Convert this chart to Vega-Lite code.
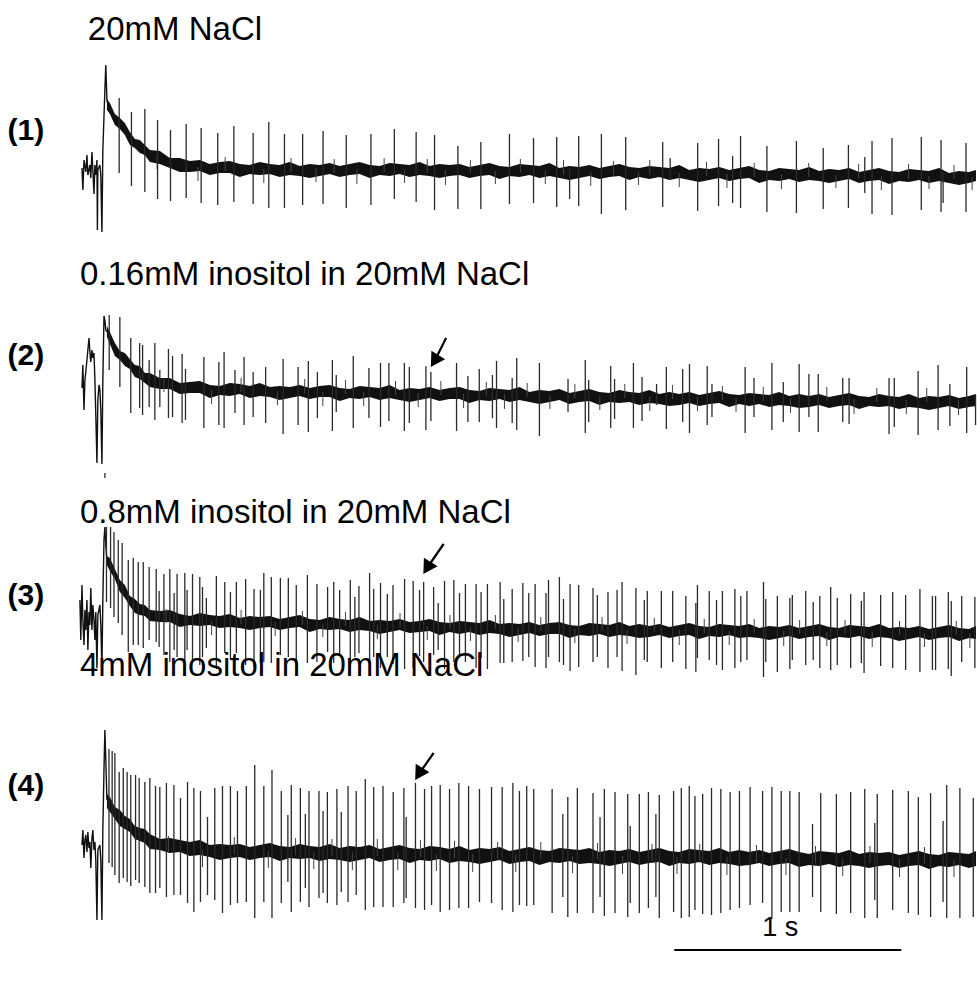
{
  "$schema": "https://vega.github.io/schema/vega-lite/v6.json",
  "width": 977,
  "height": 981,
  "autosize": {"type": "fit", "contains": "padding"},
  "padding": 0,
  "background": "white",
  "config": {"view": {"stroke": null}},
  "datasets": {
    "band": [
      {"s":1,"t":9,"a":882,"b":871},{"s":1,"t":22,"a":878,"b":867},{"s":1,"t":44,"a":867,"b":856},{"s":1,"t":66,"a":863,"b":852},{"s":1,"t":88,"a":858,"b":846},{"s":1,"t":110,"a":849,"b":836},{"s":1,"t":132,"a":842,"b":833},{"s":1,"t":154,"a":841,"b":828},{"s":1,"t":176,"a":836,"b":826},{"s":1,"t":198,"a":831,"b":819},{"s":1,"t":242,"a":830,"b":817},{"s":1,"t":286,"a":823,"b":813},{"s":1,"t":330,"a":823,"b":809},{"s":1,"t":374,"a":820,"b":809},{"s":1,"t":418,"a":821,"b":810},{"s":1,"t":462,"a":817,"b":806},{"s":1,"t":506,"a":819,"b":808},{"s":1,"t":550,"a":820,"b":808},{"s":1,"t":594,"a":817,"b":804},{"s":1,"t":638,"a":816,"b":807},{"s":1,"t":682,"a":819,"b":806},{"s":1,"t":726,"a":817,"b":807},{"s":1,"t":770,"a":816,"b":804},{"s":1,"t":814,"a":819,"b":806},{"s":1,"t":858,"a":815,"b":805},{"s":1,"t":902,"a":817,"b":803},{"s":1,"t":946,"a":816,"b":805},{"s":1,"t":990,"a":818,"b":807},{"s":1,"t":1034,"a":815,"b":804},{"s":1,"t":1078,"a":817,"b":806},{"s":1,"t":1122,"a":819,"b":807},{"s":1,"t":1166,"a":816,"b":803},{"s":1,"t":1210,"a":815,"b":806},{"s":1,"t":1254,"a":818,"b":805},{"s":1,"t":1298,"a":817,"b":807},{"s":1,"t":1342,"a":816,"b":804},{"s":1,"t":1386,"a":819,"b":806},{"s":1,"t":1430,"a":815,"b":805},{"s":1,"t":1474,"a":817,"b":803},{"s":1,"t":1518,"a":816,"b":805},{"s":1,"t":1562,"a":817,"b":806},{"s":1,"t":1606,"a":814,"b":803},{"s":1,"t":1650,"a":816,"b":805},{"s":1,"t":1694,"a":818,"b":806},{"s":1,"t":1738,"a":815,"b":802},{"s":1,"t":1782,"a":814,"b":805},{"s":1,"t":1826,"a":817,"b":804},{"s":1,"t":1870,"a":816,"b":806},{"s":1,"t":1914,"a":815,"b":803},{"s":1,"t":1958,"a":818,"b":805},{"s":1,"t":2002,"a":813,"b":803},{"s":1,"t":2046,"a":815,"b":801},{"s":1,"t":2090,"a":814,"b":803},{"s":1,"t":2134,"a":816,"b":805},{"s":1,"t":2178,"a":813,"b":802},{"s":1,"t":2222,"a":815,"b":804},{"s":1,"t":2266,"a":817,"b":805},{"s":1,"t":2310,"a":814,"b":801},{"s":1,"t":2354,"a":813,"b":804},{"s":1,"t":2398,"a":815,"b":802},{"s":1,"t":2442,"a":814,"b":804},{"s":1,"t":2486,"a":813,"b":801},{"s":1,"t":2530,"a":816,"b":803},{"s":1,"t":2574,"a":811,"b":801},{"s":1,"t":2618,"a":813,"b":799},{"s":1,"t":2662,"a":812,"b":801},{"s":1,"t":2706,"a":814,"b":803},{"s":1,"t":2750,"a":811,"b":800},{"s":1,"t":2794,"a":813,"b":802},{"s":1,"t":2838,"a":815,"b":803},{"s":1,"t":2882,"a":811,"b":798},{"s":1,"t":2926,"a":810,"b":801},{"s":1,"t":2970,"a":813,"b":800},{"s":1,"t":3014,"a":812,"b":802},{"s":1,"t":3058,"a":811,"b":799},{"s":1,"t":3102,"a":814,"b":801},{"s":1,"t":3146,"a":810,"b":800},{"s":1,"t":3190,"a":812,"b":798},{"s":1,"t":3234,"a":811,"b":800},{"s":1,"t":3278,"a":813,"b":802},{"s":1,"t":3322,"a":809,"b":798},{"s":1,"t":3366,"a":811,"b":800},{"s":1,"t":3410,"a":813,"b":801},{"s":1,"t":3454,"a":810,"b":797},{"s":1,"t":3498,"a":809,"b":800},{"s":1,"t":3542,"a":812,"b":799},{"s":1,"t":3586,"a":811,"b":801},{"s":1,"t":3630,"a":810,"b":798},{"s":1,"t":3674,"a":813,"b":800},{"s":1,"t":3718,"a":808,"b":798},{"s":1,"t":3762,"a":810,"b":796},{"s":1,"t":3806,"a":809,"b":798},{"s":1,"t":3837,"a":811,"b":800},

      {"s":2,"t":9,"a":655,"b":644},{"s":2,"t":22,"a":649,"b":637},{"s":2,"t":44,"a":638,"b":625},{"s":2,"t":66,"a":630,"b":621},{"s":2,"t":88,"a":628,"b":615},{"s":2,"t":110,"a":622,"b":612},{"s":2,"t":132,"a":616,"b":604},{"s":2,"t":154,"a":615,"b":602},{"s":2,"t":176,"a":608,"b":598},{"s":2,"t":198,"a":608,"b":594},{"s":2,"t":242,"a":603,"b":592},{"s":2,"t":286,"a":603,"b":592},{"s":2,"t":330,"a":598,"b":587},{"s":2,"t":374,"a":599,"b":588},{"s":2,"t":418,"a":600,"b":588},{"s":2,"t":462,"a":596,"b":583},{"s":2,"t":506,"a":595,"b":586},{"s":2,"t":550,"a":598,"b":585},{"s":2,"t":594,"a":597,"b":587},{"s":2,"t":638,"a":595,"b":583},{"s":2,"t":682,"a":598,"b":585},{"s":2,"t":726,"a":594,"b":584},{"s":2,"t":770,"a":595,"b":581},{"s":2,"t":814,"a":594,"b":583},{"s":2,"t":858,"a":596,"b":585},{"s":2,"t":902,"a":593,"b":582},{"s":2,"t":946,"a":595,"b":584},{"s":2,"t":990,"a":596,"b":584},{"s":2,"t":1034,"a":593,"b":580},{"s":2,"t":1078,"a":592,"b":583},{"s":2,"t":1122,"a":595,"b":582},{"s":2,"t":1166,"a":594,"b":584},{"s":2,"t":1210,"a":593,"b":581},{"s":2,"t":1254,"a":596,"b":583},{"s":2,"t":1298,"a":591,"b":581},{"s":2,"t":1342,"a":593,"b":579},{"s":2,"t":1386,"a":592,"b":581},{"s":2,"t":1430,"a":594,"b":583},{"s":2,"t":1474,"a":591,"b":580},{"s":2,"t":1518,"a":593,"b":582},{"s":2,"t":1562,"a":594,"b":582},{"s":2,"t":1606,"a":591,"b":578},{"s":2,"t":1650,"a":590,"b":581},{"s":2,"t":1694,"a":593,"b":580},{"s":2,"t":1738,"a":592,"b":582},{"s":2,"t":1782,"a":591,"b":579},{"s":2,"t":1826,"a":594,"b":581},{"s":2,"t":1870,"a":589,"b":579},{"s":2,"t":1914,"a":591,"b":577},{"s":2,"t":1958,"a":590,"b":579},{"s":2,"t":2002,"a":592,"b":581},{"s":2,"t":2046,"a":588,"b":577},{"s":2,"t":2090,"a":590,"b":579},{"s":2,"t":2134,"a":592,"b":580},{"s":2,"t":2178,"a":589,"b":576},{"s":2,"t":2222,"a":588,"b":579},{"s":2,"t":2266,"a":591,"b":578},{"s":2,"t":2310,"a":589,"b":579},{"s":2,"t":2354,"a":588,"b":576},{"s":2,"t":2398,"a":591,"b":578},{"s":2,"t":2442,"a":587,"b":577},{"s":2,"t":2486,"a":589,"b":575},{"s":2,"t":2530,"a":587,"b":576},{"s":2,"t":2574,"a":589,"b":578},{"s":2,"t":2618,"a":586,"b":575},{"s":2,"t":2662,"a":588,"b":577},{"s":2,"t":2706,"a":590,"b":578},{"s":2,"t":2750,"a":587,"b":574},{"s":2,"t":2794,"a":586,"b":577},{"s":2,"t":2838,"a":588,"b":575},{"s":2,"t":2882,"a":587,"b":577},{"s":2,"t":2926,"a":586,"b":574},{"s":2,"t":2970,"a":589,"b":576},{"s":2,"t":3014,"a":585,"b":575},{"s":2,"t":3058,"a":587,"b":573},{"s":2,"t":3102,"a":585,"b":574},{"s":2,"t":3146,"a":587,"b":576},{"s":2,"t":3190,"a":584,"b":573},{"s":2,"t":3234,"a":586,"b":575},{"s":2,"t":3278,"a":588,"b":576},{"s":2,"t":3322,"a":585,"b":572},{"s":2,"t":3366,"a":584,"b":575},{"s":2,"t":3410,"a":587,"b":574},{"s":2,"t":3454,"a":585,"b":575},{"s":2,"t":3498,"a":584,"b":572},{"s":2,"t":3542,"a":587,"b":574},{"s":2,"t":3586,"a":583,"b":573},{"s":2,"t":3630,"a":585,"b":571},{"s":2,"t":3674,"a":584,"b":573},{"s":2,"t":3718,"a":586,"b":575},{"s":2,"t":3762,"a":583,"b":572},{"s":2,"t":3806,"a":585,"b":574},{"s":2,"t":3837,"a":587,"b":575},

      {"s":3,"t":9,"a":425,"b":416},{"s":3,"t":22,"a":423,"b":410},{"s":3,"t":44,"a":412,"b":402},{"s":3,"t":66,"a":401,"b":389},{"s":3,"t":88,"a":396,"b":383},{"s":3,"t":110,"a":385,"b":375},{"s":3,"t":132,"a":382,"b":368},{"s":3,"t":154,"a":377,"b":366},{"s":3,"t":176,"a":376,"b":365},{"s":3,"t":198,"a":371,"b":360},{"s":3,"t":242,"a":370,"b":359},{"s":3,"t":286,"a":371,"b":359},{"s":3,"t":330,"a":367,"b":354},{"s":3,"t":374,"a":365,"b":356},{"s":3,"t":418,"a":368,"b":355},{"s":3,"t":462,"a":366,"b":356},{"s":3,"t":506,"a":365,"b":353},{"s":3,"t":550,"a":367,"b":354},{"s":3,"t":594,"a":363,"b":353},{"s":3,"t":638,"a":365,"b":351},{"s":3,"t":682,"a":364,"b":353},{"s":3,"t":726,"a":365,"b":354},{"s":3,"t":770,"a":362,"b":351},{"s":3,"t":814,"a":364,"b":353},{"s":3,"t":858,"a":366,"b":354},{"s":3,"t":902,"a":362,"b":349},{"s":3,"t":946,"a":361,"b":352},{"s":3,"t":990,"a":364,"b":351},{"s":3,"t":1034,"a":362,"b":352},{"s":3,"t":1078,"a":361,"b":349},{"s":3,"t":1122,"a":364,"b":351},{"s":3,"t":1166,"a":360,"b":350},{"s":3,"t":1210,"a":361,"b":347},{"s":3,"t":1254,"a":360,"b":349},{"s":3,"t":1298,"a":362,"b":351},{"s":3,"t":1342,"a":359,"b":348},{"s":3,"t":1386,"a":360,"b":349},{"s":3,"t":1430,"a":362,"b":350},{"s":3,"t":1474,"a":359,"b":346},{"s":3,"t":1518,"a":358,"b":349},{"s":3,"t":1562,"a":360,"b":347},{"s":3,"t":1606,"a":359,"b":349},{"s":3,"t":1650,"a":358,"b":346},{"s":3,"t":1694,"a":361,"b":348},{"s":3,"t":1738,"a":357,"b":347},{"s":3,"t":1782,"a":358,"b":344},{"s":3,"t":1826,"a":357,"b":346},{"s":3,"t":1870,"a":359,"b":348},{"s":3,"t":1914,"a":356,"b":345},{"s":3,"t":1958,"a":358,"b":347},{"s":3,"t":2002,"a":359,"b":347},{"s":3,"t":2046,"a":356,"b":343},{"s":3,"t":2090,"a":355,"b":346},{"s":3,"t":2134,"a":358,"b":345},{"s":3,"t":2178,"a":357,"b":347},{"s":3,"t":2222,"a":356,"b":344},{"s":3,"t":2266,"a":359,"b":346},{"s":3,"t":2310,"a":355,"b":345},{"s":3,"t":2354,"a":357,"b":343},{"s":3,"t":2398,"a":355,"b":344},{"s":3,"t":2442,"a":357,"b":346},{"s":3,"t":2486,"a":354,"b":343},{"s":3,"t":2530,"a":356,"b":345},{"s":3,"t":2574,"a":358,"b":346},{"s":3,"t":2618,"a":355,"b":342},{"s":3,"t":2662,"a":354,"b":345},{"s":3,"t":2706,"a":357,"b":344},{"s":3,"t":2750,"a":356,"b":346},{"s":3,"t":2794,"a":355,"b":343},{"s":3,"t":2838,"a":357,"b":344},{"s":3,"t":2882,"a":353,"b":343},{"s":3,"t":2926,"a":355,"b":341},{"s":3,"t":2970,"a":354,"b":343},{"s":3,"t":3014,"a":356,"b":345},{"s":3,"t":3058,"a":353,"b":342},{"s":3,"t":3102,"a":355,"b":344},{"s":3,"t":3146,"a":357,"b":345},{"s":3,"t":3190,"a":354,"b":341},{"s":3,"t":3234,"a":353,"b":344},{"s":3,"t":3278,"a":356,"b":343},{"s":3,"t":3322,"a":355,"b":345},{"s":3,"t":3366,"a":354,"b":342},{"s":3,"t":3410,"a":357,"b":344},{"s":3,"t":3454,"a":353,"b":343},{"s":3,"t":3498,"a":354,"b":340},{"s":3,"t":3542,"a":353,"b":342},{"s":3,"t":3586,"a":355,"b":344},{"s":3,"t":3630,"a":352,"b":341},{"s":3,"t":3674,"a":354,"b":343},{"s":3,"t":3718,"a":356,"b":344},{"s":3,"t":3762,"a":353,"b":340},{"s":3,"t":3806,"a":352,"b":343},{"s":3,"t":3837,"a":355,"b":342},

      {"s":4,"t":9,"a":187,"b":173},{"s":4,"t":22,"a":184,"b":169},{"s":4,"t":44,"a":174,"b":162},{"s":4,"t":66,"a":171,"b":155},{"s":4,"t":88,"a":165,"b":152},{"s":4,"t":110,"a":162,"b":149},{"s":4,"t":132,"a":155,"b":142},{"s":4,"t":154,"a":153,"b":140},{"s":4,"t":176,"a":152,"b":138},{"s":4,"t":198,"a":147,"b":132},{"s":4,"t":242,"a":142,"b":131},{"s":4,"t":286,"a":143,"b":128},{"s":4,"t":330,"a":141,"b":129},{"s":4,"t":374,"a":139,"b":125},{"s":4,"t":418,"a":141,"b":126},{"s":4,"t":462,"a":136,"b":124},{"s":4,"t":506,"a":137,"b":121},{"s":4,"t":550,"a":136,"b":123},{"s":4,"t":594,"a":137,"b":124},{"s":4,"t":638,"a":134,"b":121},{"s":4,"t":682,"a":136,"b":123},{"s":4,"t":726,"a":138,"b":124},{"s":4,"t":770,"a":135,"b":120},{"s":4,"t":814,"a":134,"b":123},{"s":4,"t":858,"a":137,"b":122},{"s":4,"t":902,"a":135,"b":123},{"s":4,"t":946,"a":134,"b":120},{"s":4,"t":990,"a":137,"b":122},{"s":4,"t":1034,"a":133,"b":121},{"s":4,"t":1078,"a":135,"b":119},{"s":4,"t":1122,"a":134,"b":121},{"s":4,"t":1166,"a":136,"b":123},{"s":4,"t":1210,"a":132,"b":119},{"s":4,"t":1254,"a":134,"b":121},{"s":4,"t":1298,"a":136,"b":122},{"s":4,"t":1342,"a":133,"b":118},{"s":4,"t":1386,"a":132,"b":121},{"s":4,"t":1430,"a":135,"b":120},{"s":4,"t":1474,"a":134,"b":122},{"s":4,"t":1518,"a":132,"b":118},{"s":4,"t":1562,"a":135,"b":120},{"s":4,"t":1606,"a":131,"b":119},{"s":4,"t":1650,"a":133,"b":117},{"s":4,"t":1694,"a":132,"b":119},{"s":4,"t":1738,"a":134,"b":121},{"s":4,"t":1782,"a":130,"b":117},{"s":4,"t":1826,"a":132,"b":119},{"s":4,"t":1870,"a":134,"b":120},{"s":4,"t":1914,"a":131,"b":116},{"s":4,"t":1958,"a":130,"b":119},{"s":4,"t":2002,"a":133,"b":118},{"s":4,"t":2046,"a":132,"b":120},{"s":4,"t":2090,"a":131,"b":117},{"s":4,"t":2134,"a":133,"b":118},{"s":4,"t":2178,"a":129,"b":117},{"s":4,"t":2222,"a":131,"b":115},{"s":4,"t":2266,"a":130,"b":117},{"s":4,"t":2310,"a":132,"b":119},{"s":4,"t":2354,"a":129,"b":116},{"s":4,"t":2398,"a":131,"b":118},{"s":4,"t":2442,"a":133,"b":119},{"s":4,"t":2486,"a":130,"b":115},{"s":4,"t":2530,"a":129,"b":118},{"s":4,"t":2574,"a":132,"b":117},{"s":4,"t":2618,"a":131,"b":119},{"s":4,"t":2662,"a":130,"b":116},{"s":4,"t":2706,"a":133,"b":118},{"s":4,"t":2750,"a":129,"b":117},{"s":4,"t":2794,"a":131,"b":115},{"s":4,"t":2838,"a":129,"b":116},{"s":4,"t":2882,"a":131,"b":118},{"s":4,"t":2926,"a":128,"b":115},{"s":4,"t":2970,"a":130,"b":117},{"s":4,"t":3014,"a":132,"b":118},{"s":4,"t":3058,"a":129,"b":114},{"s":4,"t":3102,"a":127,"b":116},{"s":4,"t":3146,"a":130,"b":115},{"s":4,"t":3190,"a":129,"b":117},{"s":4,"t":3234,"a":128,"b":114},{"s":4,"t":3278,"a":131,"b":116},{"s":4,"t":3322,"a":127,"b":115},{"s":4,"t":3366,"a":129,"b":113},{"s":4,"t":3410,"a":128,"b":115},{"s":4,"t":3454,"a":129,"b":116},{"s":4,"t":3498,"a":126,"b":113},{"s":4,"t":3542,"a":128,"b":115},{"s":4,"t":3586,"a":130,"b":116},{"s":4,"t":3630,"a":127,"b":112},{"s":4,"t":3674,"a":126,"b":115},{"s":4,"t":3718,"a":129,"b":114},{"s":4,"t":3762,"a":128,"b":116},{"s":4,"t":3806,"a":127,"b":113},{"s":4,"t":3837,"a":130,"b":115}
    ],
    "onset": [
      {"s":1,"i":0,"t":-101,"v":813},{"s":1,"i":1,"t":-97,"v":791},{"s":1,"i":2,"t":-92,"v":821},{"s":1,"i":3,"t":-84,"v":809},{"s":1,"i":4,"t":-79,"v":826},{"s":1,"i":5,"t":-75,"v":806},{"s":1,"i":6,"t":-66,"v":816},{"s":1,"i":7,"t":-62,"v":803},{"s":1,"i":8,"t":-57,"v":829},{"s":1,"i":9,"t":-53,"v":811},{"s":1,"i":10,"t":-48,"v":787},{"s":1,"i":11,"t":-44,"v":816},{"s":1,"i":12,"t":-40,"v":806},{"s":1,"i":13,"t":-35,"v":821},{"s":1,"i":14,"t":-33,"v":751},{"s":1,"i":15,"t":-31,"v":811},{"s":1,"i":16,"t":-22,"v":816},{"s":1,"i":17,"t":-18,"v":806},{"s":1,"i":18,"t":-13,"v":749},{"s":1,"i":19,"t":-9,"v":831},{"s":1,"i":20,"t":0,"v":891},{"s":1,"i":21,"t":4,"v":916},{"s":1,"i":22,"t":9,"v":881},{"s":1,"i":23,"t":13,"v":877},

      {"s":2,"i":0,"t":-101,"v":593},{"s":2,"i":1,"t":-97,"v":616},{"s":2,"i":2,"t":-92,"v":571},{"s":2,"i":3,"t":-88,"v":601},{"s":2,"i":4,"t":-84,"v":609},{"s":2,"i":5,"t":-79,"v":621},{"s":2,"i":6,"t":-75,"v":631},{"s":2,"i":7,"t":-70,"v":643},{"s":2,"i":8,"t":-66,"v":629},{"s":2,"i":9,"t":-62,"v":619},{"s":2,"i":10,"t":-57,"v":631},{"s":2,"i":11,"t":-53,"v":623},{"s":2,"i":12,"t":-48,"v":628},{"s":2,"i":13,"t":-44,"v":601},{"s":2,"i":14,"t":-40,"v":566},{"s":2,"i":15,"t":-35,"v":518},{"s":2,"i":16,"t":-31,"v":581},{"s":2,"i":17,"t":-26,"v":596},{"s":2,"i":18,"t":-22,"v":591},{"s":2,"i":19,"t":-18,"v":571},{"s":2,"i":20,"t":-13,"v":517},{"s":2,"i":21,"t":-9,"v":601},{"s":2,"i":22,"t":-4,"v":665},{"s":2,"i":23,"t":0,"v":661},{"s":2,"i":24,"t":4,"v":651},{"s":2,"i":25,"t":9,"v":649},

      {"s":3,"i":0,"t":-110,"v":381},{"s":3,"i":1,"t":-106,"v":341},{"s":3,"i":2,"t":-101,"v":396},{"s":3,"i":3,"t":-97,"v":361},{"s":3,"i":4,"t":-92,"v":336},{"s":3,"i":5,"t":-88,"v":371},{"s":3,"i":6,"t":-84,"v":351},{"s":3,"i":7,"t":-79,"v":381},{"s":3,"i":8,"t":-75,"v":331},{"s":3,"i":9,"t":-70,"v":369},{"s":3,"i":10,"t":-66,"v":356},{"s":3,"i":11,"t":-62,"v":393},{"s":3,"i":12,"t":-57,"v":351},{"s":3,"i":13,"t":-53,"v":376},{"s":3,"i":14,"t":-48,"v":361},{"s":3,"i":15,"t":-44,"v":341},{"s":3,"i":16,"t":-40,"v":369},{"s":3,"i":17,"t":-35,"v":313},{"s":3,"i":18,"t":-31,"v":366},{"s":3,"i":19,"t":-22,"v":376},{"s":3,"i":20,"t":-18,"v":356},{"s":3,"i":21,"t":-13,"v":313},{"s":3,"i":22,"t":-9,"v":381},{"s":3,"i":23,"t":-4,"v":441},{"s":3,"i":24,"t":0,"v":454},{"s":3,"i":25,"t":4,"v":436},{"s":3,"i":26,"t":9,"v":421},

      {"s":4,"i":0,"t":-101,"v":136},{"s":4,"i":1,"t":-97,"v":151},{"s":4,"i":2,"t":-92,"v":123},{"s":4,"i":3,"t":-88,"v":141},{"s":4,"i":4,"t":-84,"v":146},{"s":4,"i":5,"t":-79,"v":129},{"s":4,"i":6,"t":-75,"v":149},{"s":4,"i":7,"t":-70,"v":133},{"s":4,"i":8,"t":-66,"v":139},{"s":4,"i":9,"t":-62,"v":113},{"s":4,"i":10,"t":-57,"v":143},{"s":4,"i":11,"t":-53,"v":151},{"s":4,"i":12,"t":-48,"v":131},{"s":4,"i":13,"t":-44,"v":139},{"s":4,"i":14,"t":-40,"v":121},{"s":4,"i":15,"t":-35,"v":61},{"s":4,"i":16,"t":-31,"v":131},{"s":4,"i":17,"t":-22,"v":136},{"s":4,"i":18,"t":-18,"v":121},{"s":4,"i":19,"t":-13,"v":61},{"s":4,"i":20,"t":-9,"v":151},{"s":4,"i":21,"t":-4,"v":211},{"s":4,"i":22,"t":0,"v":251},{"s":4,"i":23,"t":4,"v":221},{"s":4,"i":24,"t":9,"v":181}
    ],
    "spikes": [
      {"s":1,"t":63,"hi":883,"lo":808},{"s":1,"t":117,"hi":869,"lo":795},{"s":1,"t":176,"hi":872,"lo":789},{"s":1,"t":232,"hi":861,"lo":782},{"s":1,"t":289,"hi":851,"lo":780},{"s":1,"t":358,"hi":857,"lo":783},{"s":1,"t":424,"hi":853,"lo":778},{"s":1,"t":497,"hi":848,"lo":776},{"s":1,"t":568,"hi":855,"lo":779},{"s":1,"t":653,"hi":848,"lo":777},{"s":1,"t":722,"hi":859,"lo":773},{"s":1,"t":791,"hi":847,"lo":773},{"s":1,"t":871,"hi":847,"lo":776},{"s":1,"t":961,"hi":850,"lo":777},{"s":1,"t":1063,"hi":846,"lo":773},{"s":1,"t":1172,"hi":847,"lo":776},{"s":1,"t":1275,"hi":852,"lo":782},{"s":1,"t":1371,"hi":849,"lo":779},{"s":1,"t":1452,"hi":846,"lo":771},{"s":1,"t":1555,"hi":835,"lo":772},{"s":1,"t":1656,"hi":839,"lo":772},{"s":1,"t":1782,"hi":847,"lo":777},{"s":1,"t":1888,"hi":843,"lo":778},{"s":1,"t":1990,"hi":844,"lo":774},{"s":1,"t":2047,"hi":813,"lo":782},{"s":1,"t":2087,"hi":845,"lo":775},{"s":1,"t":2187,"hi":847,"lo":767},{"s":1,"t":2294,"hi":844,"lo":771},{"s":1,"t":2457,"hi":839,"lo":774},{"s":1,"t":2490,"hi":823,"lo":801},{"s":1,"t":2611,"hi":838,"lo":770},{"s":1,"t":2703,"hi":842,"lo":775},{"s":1,"t":2765,"hi":825,"lo":778},{"s":1,"t":2800,"hi":845,"lo":773},{"s":1,"t":2916,"hi":835,"lo":769},{"s":1,"t":3046,"hi":840,"lo":768},{"s":1,"t":3164,"hi":833,"lo":772},{"s":1,"t":3275,"hi":836,"lo":773},{"s":1,"t":3347,"hi":824,"lo":788},{"s":1,"t":3379,"hi":840,"lo":767},{"s":1,"t":3467,"hi":843,"lo":766},{"s":1,"t":3596,"hi":844,"lo":771},{"s":1,"t":3683,"hi":841,"lo":769},{"s":1,"t":3692,"hi":809,"lo":778},{"s":1,"t":3793,"hi":838,"lo":769},

      {"s":2,"t":0,"hi":508,"lo":503},{"s":2,"t":19,"hi":666,"lo":611},{"s":2,"t":66,"hi":664,"lo":594},{"s":2,"t":114,"hi":643,"lo":568},{"s":2,"t":153,"hi":638,"lo":573},{"s":2,"t":166,"hi":636,"lo":566},{"s":2,"t":195,"hi":621,"lo":574},{"s":2,"t":220,"hi":638,"lo":561},{"s":2,"t":242,"hi":611,"lo":574},{"s":2,"t":280,"hi":632,"lo":563},{"s":2,"t":298,"hi":625,"lo":564},{"s":2,"t":340,"hi":627,"lo":558},{"s":2,"t":355,"hi":612,"lo":561},{"s":2,"t":436,"hi":624,"lo":553},{"s":2,"t":502,"hi":619,"lo":556},{"s":2,"t":525,"hi":629,"lo":553},{"s":2,"t":573,"hi":611,"lo":568},{"s":2,"t":613,"hi":624,"lo":556},{"s":2,"t":653,"hi":609,"lo":564},{"s":2,"t":708,"hi":614,"lo":558},{"s":2,"t":785,"hi":622,"lo":547},{"s":2,"t":851,"hi":614,"lo":556},{"s":2,"t":896,"hi":620,"lo":549},{"s":2,"t":936,"hi":609,"lo":563},{"s":2,"t":1002,"hi":621,"lo":550},{"s":2,"t":1019,"hi":606,"lo":569},{"s":2,"t":1094,"hi":625,"lo":553},{"s":2,"t":1163,"hi":613,"lo":563},{"s":2,"t":1214,"hi":618,"lo":554},{"s":2,"t":1251,"hi":618,"lo":560},{"s":2,"t":1319,"hi":618,"lo":550},{"s":2,"t":1341,"hi":614,"lo":558},{"s":2,"t":1414,"hi":615,"lo":551},{"s":2,"t":1436,"hi":609,"lo":560},{"s":2,"t":1549,"hi":618,"lo":550},{"s":2,"t":1599,"hi":605,"lo":559},{"s":2,"t":1649,"hi":612,"lo":559},{"s":2,"t":1707,"hi":606,"lo":563},{"s":2,"t":1725,"hi":620,"lo":553},{"s":2,"t":1794,"hi":603,"lo":558},{"s":2,"t":1814,"hi":623,"lo":551},{"s":2,"t":1914,"hi":618,"lo":545},{"s":2,"t":2040,"hi":602,"lo":569},{"s":2,"t":2116,"hi":621,"lo":548},{"s":2,"t":2131,"hi":601,"lo":559},{"s":2,"t":2228,"hi":615,"lo":553},{"s":2,"t":2245,"hi":602,"lo":562},{"s":2,"t":2328,"hi":618,"lo":553},{"s":2,"t":2366,"hi":604,"lo":560},{"s":2,"t":2430,"hi":597,"lo":576},{"s":2,"t":2473,"hi":614,"lo":552},{"s":2,"t":2545,"hi":612,"lo":559},{"s":2,"t":2575,"hi":617,"lo":548},{"s":2,"t":2653,"hi":615,"lo":556},{"s":2,"t":2674,"hi":597,"lo":564},{"s":2,"t":2820,"hi":614,"lo":548},{"s":2,"t":2859,"hi":603,"lo":564},{"s":2,"t":2938,"hi":618,"lo":551},{"s":2,"t":2988,"hi":599,"lo":559},{"s":2,"t":3058,"hi":617,"lo":549},{"s":2,"t":3101,"hi":607,"lo":564},{"s":2,"t":3142,"hi":607,"lo":549},{"s":2,"t":3250,"hi":603,"lo":559},{"s":2,"t":3278,"hi":603,"lo":557},{"s":2,"t":3454,"hi":603,"lo":547},{"s":2,"t":3477,"hi":603,"lo":554},{"s":2,"t":3582,"hi":610,"lo":546},{"s":2,"t":3670,"hi":616,"lo":551},{"s":2,"t":3722,"hi":597,"lo":555},{"s":2,"t":3796,"hi":614,"lo":548},{"s":2,"t":3835,"hi":586,"lo":556},

      {"s":3,"t":7,"hi":454,"lo":379},{"s":3,"t":25,"hi":454,"lo":373},{"s":3,"t":40,"hi":449,"lo":364},{"s":3,"t":59,"hi":441,"lo":358},{"s":3,"t":76,"hi":438,"lo":346},{"s":3,"t":103,"hi":421,"lo":329},{"s":3,"t":125,"hi":423,"lo":336},{"s":3,"t":147,"hi":419,"lo":336},{"s":3,"t":169,"hi":419,"lo":333},{"s":3,"t":195,"hi":414,"lo":341},{"s":3,"t":226,"hi":412,"lo":339},{"s":3,"t":239,"hi":390,"lo":334},{"s":3,"t":260,"hi":407,"lo":326},{"s":3,"t":286,"hi":412,"lo":319},{"s":3,"t":305,"hi":388,"lo":331},{"s":3,"t":318,"hi":407,"lo":324},{"s":3,"t":352,"hi":408,"lo":319},{"s":3,"t":362,"hi":391,"lo":331},{"s":3,"t":386,"hi":407,"lo":321},{"s":3,"t":418,"hi":404,"lo":316},{"s":3,"t":430,"hi":394,"lo":324},{"s":3,"t":447,"hi":383,"lo":333},{"s":3,"t":491,"hi":405,"lo":312},{"s":3,"t":528,"hi":399,"lo":328},{"s":3,"t":553,"hi":389,"lo":321},{"s":3,"t":579,"hi":399,"lo":328},{"s":3,"t":620,"hi":402,"lo":316},{"s":3,"t":657,"hi":392,"lo":314},{"s":3,"t":685,"hi":391,"lo":318},{"s":3,"t":700,"hi":408,"lo":319},{"s":3,"t":733,"hi":404,"lo":318},{"s":3,"t":773,"hi":403,"lo":326},{"s":3,"t":808,"hi":403,"lo":324},{"s":3,"t":843,"hi":396,"lo":321},{"s":3,"t":892,"hi":406,"lo":318},{"s":3,"t":934,"hi":397,"lo":319},{"s":3,"t":981,"hi":394,"lo":329},{"s":3,"t":1008,"hi":399,"lo":318},{"s":3,"t":1034,"hi":391,"lo":326},{"s":3,"t":1081,"hi":401,"lo":314},{"s":3,"t":1101,"hi":384,"lo":324},{"s":3,"t":1119,"hi":395,"lo":328},{"s":3,"t":1166,"hi":408,"lo":319},{"s":3,"t":1184,"hi":392,"lo":324},{"s":3,"t":1214,"hi":398,"lo":313},{"s":3,"t":1244,"hi":387,"lo":324},{"s":3,"t":1269,"hi":396,"lo":317},{"s":3,"t":1320,"hi":402,"lo":312},{"s":3,"t":1358,"hi":400,"lo":313},{"s":3,"t":1386,"hi":391,"lo":325},{"s":3,"t":1404,"hi":399,"lo":319},{"s":3,"t":1448,"hi":394,"lo":326},{"s":3,"t":1468,"hi":378,"lo":331},{"s":3,"t":1496,"hi":400,"lo":312},{"s":3,"t":1537,"hi":401,"lo":319},{"s":3,"t":1562,"hi":388,"lo":324},{"s":3,"t":1588,"hi":397,"lo":319},{"s":3,"t":1635,"hi":397,"lo":313},{"s":3,"t":1657,"hi":389,"lo":323},{"s":3,"t":1685,"hi":397,"lo":312},{"s":3,"t":1741,"hi":399,"lo":318},{"s":3,"t":1757,"hi":382,"lo":318},{"s":3,"t":1794,"hi":392,"lo":319},{"s":3,"t":1841,"hi":398,"lo":320},{"s":3,"t":1867,"hi":388,"lo":324},{"s":3,"t":1895,"hi":397,"lo":314},{"s":3,"t":1943,"hi":388,"lo":313},{"s":3,"t":1954,"hi":401,"lo":324},{"s":3,"t":2002,"hi":404,"lo":319},{"s":3,"t":2020,"hi":382,"lo":316},{"s":3,"t":2049,"hi":397,"lo":310},{"s":3,"t":2087,"hi":396,"lo":314},{"s":3,"t":2150,"hi":393,"lo":319},{"s":3,"t":2169,"hi":386,"lo":324},{"s":3,"t":2216,"hi":389,"lo":313},{"s":3,"t":2256,"hi":391,"lo":324},{"s":3,"t":2278,"hi":399,"lo":310},{"s":3,"t":2339,"hi":393,"lo":306},{"s":3,"t":2376,"hi":381,"lo":321},{"s":3,"t":2389,"hi":390,"lo":319},{"s":3,"t":2451,"hi":390,"lo":313},{"s":3,"t":2501,"hi":390,"lo":319},{"s":3,"t":2559,"hi":385,"lo":312},{"s":3,"t":2603,"hi":378,"lo":309},{"s":3,"t":2610,"hi":396,"lo":323},{"s":3,"t":2662,"hi":390,"lo":321},{"s":3,"t":2694,"hi":381,"lo":316},{"s":3,"t":2720,"hi":390,"lo":311},{"s":3,"t":2775,"hi":392,"lo":313},{"s":3,"t":2801,"hi":385,"lo":319},{"s":3,"t":2828,"hi":390,"lo":321},{"s":3,"t":2901,"hi":399,"lo":304},{"s":3,"t":2911,"hi":382,"lo":319},{"s":3,"t":2962,"hi":385,"lo":309},{"s":3,"t":3017,"hi":383,"lo":312},{"s":3,"t":3028,"hi":386,"lo":321},{"s":3,"t":3087,"hi":390,"lo":316},{"s":3,"t":3120,"hi":379,"lo":321},{"s":3,"t":3149,"hi":385,"lo":313},{"s":3,"t":3197,"hi":394,"lo":311},{"s":3,"t":3226,"hi":383,"lo":316},{"s":3,"t":3285,"hi":387,"lo":313},{"s":3,"t":3332,"hi":380,"lo":318},{"s":3,"t":3344,"hi":389,"lo":308},{"s":3,"t":3417,"hi":386,"lo":315},{"s":3,"t":3470,"hi":389,"lo":313},{"s":3,"t":3527,"hi":386,"lo":311},{"s":3,"t":3590,"hi":392,"lo":309},{"s":3,"t":3645,"hi":385,"lo":311},{"s":3,"t":3659,"hi":385,"lo":311},{"s":3,"t":3715,"hi":389,"lo":312},{"s":3,"t":3728,"hi":380,"lo":305},{"s":3,"t":3774,"hi":385,"lo":319},{"s":3,"t":3832,"hi":384,"lo":313},

      {"s":4,"t":18,"hi":232,"lo":118},{"s":4,"t":32,"hi":230,"lo":114},{"s":4,"t":44,"hi":228,"lo":106},{"s":4,"t":63,"hi":209,"lo":98},{"s":4,"t":81,"hi":213,"lo":103},{"s":4,"t":98,"hi":209,"lo":99},{"s":4,"t":114,"hi":206,"lo":95},{"s":4,"t":135,"hi":206,"lo":101},{"s":4,"t":151,"hi":203,"lo":98},{"s":4,"t":176,"hi":199,"lo":94},{"s":4,"t":198,"hi":203,"lo":88},{"s":4,"t":223,"hi":195,"lo":88},{"s":4,"t":242,"hi":194,"lo":93},{"s":4,"t":271,"hi":198,"lo":84},{"s":4,"t":304,"hi":196,"lo":86},{"s":4,"t":333,"hi":183,"lo":86},{"s":4,"t":364,"hi":199,"lo":78},{"s":4,"t":392,"hi":193,"lo":69},{"s":4,"t":421,"hi":190,"lo":79},{"s":4,"t":452,"hi":164,"lo":86},{"s":4,"t":484,"hi":193,"lo":81},{"s":4,"t":518,"hi":195,"lo":68},{"s":4,"t":553,"hi":195,"lo":76},{"s":4,"t":584,"hi":190,"lo":78},{"s":4,"t":623,"hi":195,"lo":79},{"s":4,"t":660,"hi":216,"lo":63},{"s":4,"t":700,"hi":195,"lo":79},{"s":4,"t":736,"hi":211,"lo":63},{"s":4,"t":777,"hi":190,"lo":78},{"s":4,"t":806,"hi":166,"lo":99},{"s":4,"t":821,"hi":196,"lo":69},{"s":4,"t":861,"hi":193,"lo":79},{"s":4,"t":883,"hi":167,"lo":93},{"s":4,"t":899,"hi":190,"lo":74},{"s":4,"t":943,"hi":190,"lo":83},{"s":4,"t":961,"hi":170,"lo":88},{"s":4,"t":980,"hi":189,"lo":78},{"s":4,"t":1022,"hi":192,"lo":76},{"s":4,"t":1041,"hi":169,"lo":89},{"s":4,"t":1071,"hi":195,"lo":79},{"s":4,"t":1107,"hi":190,"lo":86},{"s":4,"t":1147,"hi":202,"lo":71},{"s":4,"t":1184,"hi":194,"lo":74},{"s":4,"t":1225,"hi":195,"lo":74},{"s":4,"t":1270,"hi":189,"lo":74},{"s":4,"t":1317,"hi":193,"lo":78},{"s":4,"t":1327,"hi":164,"lo":83},{"s":4,"t":1368,"hi":198,"lo":73},{"s":4,"t":1408,"hi":192,"lo":71},{"s":4,"t":1439,"hi":195,"lo":76},{"s":4,"t":1477,"hi":196,"lo":69},{"s":4,"t":1518,"hi":192,"lo":71},{"s":4,"t":1559,"hi":198,"lo":73},{"s":4,"t":1602,"hi":195,"lo":73},{"s":4,"t":1650,"hi":192,"lo":79},{"s":4,"t":1703,"hi":194,"lo":78},{"s":4,"t":1750,"hi":194,"lo":71},{"s":4,"t":1797,"hi":198,"lo":69},{"s":4,"t":1826,"hi":190,"lo":76},{"s":4,"t":1858,"hi":195,"lo":75},{"s":4,"t":1889,"hi":192,"lo":76},{"s":4,"t":1970,"hi":192,"lo":68},{"s":4,"t":2017,"hi":167,"lo":84},{"s":4,"t":2039,"hi":184,"lo":64},{"s":4,"t":2081,"hi":193,"lo":68},{"s":4,"t":2150,"hi":188,"lo":68},{"s":4,"t":2181,"hi":164,"lo":84},{"s":4,"t":2200,"hi":192,"lo":65},{"s":4,"t":2247,"hi":189,"lo":68},{"s":4,"t":2303,"hi":187,"lo":64},{"s":4,"t":2314,"hi":155,"lo":78},{"s":4,"t":2354,"hi":187,"lo":68},{"s":4,"t":2394,"hi":189,"lo":73},{"s":4,"t":2427,"hi":167,"lo":84},{"s":4,"t":2442,"hi":186,"lo":63},{"s":4,"t":2505,"hi":190,"lo":69},{"s":4,"t":2539,"hi":193,"lo":63},{"s":4,"t":2574,"hi":195,"lo":64},{"s":4,"t":2599,"hi":185,"lo":71},{"s":4,"t":2633,"hi":187,"lo":67},{"s":4,"t":2672,"hi":193,"lo":66},{"s":4,"t":2713,"hi":192,"lo":68},{"s":4,"t":2754,"hi":189,"lo":71},{"s":4,"t":2795,"hi":190,"lo":73},{"s":4,"t":2842,"hi":194,"lo":76},{"s":4,"t":2897,"hi":190,"lo":78},{"s":4,"t":2938,"hi":194,"lo":62},{"s":4,"t":2979,"hi":190,"lo":69},{"s":4,"t":3017,"hi":190,"lo":69},{"s":4,"t":3058,"hi":189,"lo":69},{"s":4,"t":3117,"hi":157,"lo":84},{"s":4,"t":3153,"hi":188,"lo":69},{"s":4,"t":3222,"hi":187,"lo":67},{"s":4,"t":3285,"hi":189,"lo":68},{"s":4,"t":3347,"hi":192,"lo":63},{"s":4,"t":3391,"hi":158,"lo":81},{"s":4,"t":3402,"hi":187,"lo":63},{"s":4,"t":3470,"hi":191,"lo":71},{"s":4,"t":3539,"hi":190,"lo":68},{"s":4,"t":3583,"hi":184,"lo":66},{"s":4,"t":3637,"hi":188,"lo":64},{"s":4,"t":3692,"hi":160,"lo":79},{"s":4,"t":3708,"hi":196,"lo":63},{"s":4,"t":3766,"hi":193,"lo":63},{"s":4,"t":3825,"hi":183,"lo":64}
    ],
    "noise": [
      {"s":1,"t":230,"hi":826,"lo":812},{"s":1,"t":410,"hi":814,"lo":800},{"s":1,"t":530,"hi":824,"lo":810},{"s":1,"t":700,"hi":812,"lo":798},{"s":1,"t":820,"hi":823,"lo":809},{"s":1,"t":930,"hi":813,"lo":799},{"s":1,"t":1010,"hi":822,"lo":808},{"s":1,"t":1110,"hi":812,"lo":797},{"s":1,"t":1230,"hi":823,"lo":809},{"s":1,"t":1320,"hi":811,"lo":798},{"s":1,"t":1420,"hi":822,"lo":808},{"s":1,"t":1500,"hi":811,"lo":796},{"s":1,"t":1610,"hi":821,"lo":808},{"s":1,"t":1720,"hi":810,"lo":797},{"s":1,"t":1830,"hi":822,"lo":808},{"s":1,"t":1940,"hi":811,"lo":797},{"s":1,"t":2020,"hi":821,"lo":807},{"s":1,"t":2140,"hi":809,"lo":795},{"s":1,"t":2240,"hi":820,"lo":806},{"s":1,"t":2350,"hi":809,"lo":796},{"s":1,"t":2400,"hi":821,"lo":806},{"s":1,"t":2530,"hi":808,"lo":794},{"s":1,"t":2650,"hi":819,"lo":805},{"s":1,"t":2740,"hi":807,"lo":793},{"s":1,"t":2860,"hi":818,"lo":804},{"s":1,"t":2980,"hi":807,"lo":792},{"s":1,"t":3100,"hi":818,"lo":804},{"s":1,"t":3220,"hi":806,"lo":793},{"s":1,"t":3320,"hi":817,"lo":803},{"s":1,"t":3420,"hi":805,"lo":791},{"s":1,"t":3540,"hi":817,"lo":802},{"s":1,"t":3630,"hi":805,"lo":792},{"s":1,"t":3740,"hi":816,"lo":802},{"s":1,"t":3820,"hi":804,"lo":791},

      {"s":2,"t":260,"hi":603,"lo":589},{"s":2,"t":470,"hi":591,"lo":577},{"s":2,"t":600,"hi":603,"lo":589},{"s":2,"t":760,"hi":590,"lo":576},{"s":2,"t":880,"hi":602,"lo":588},{"s":2,"t":960,"hi":589,"lo":575},{"s":2,"t":1060,"hi":601,"lo":587},{"s":2,"t":1140,"hi":589,"lo":575},{"s":2,"t":1280,"hi":600,"lo":586},{"s":2,"t":1380,"hi":588,"lo":574},{"s":2,"t":1480,"hi":600,"lo":586},{"s":2,"t":1580,"hi":587,"lo":573},{"s":2,"t":1680,"hi":599,"lo":585},{"s":2,"t":1760,"hi":587,"lo":572},{"s":2,"t":1860,"hi":598,"lo":584},{"s":2,"t":1960,"hi":586,"lo":572},{"s":2,"t":2070,"hi":597,"lo":583},{"s":2,"t":2180,"hi":585,"lo":571},{"s":2,"t":2290,"hi":597,"lo":583},{"s":2,"t":2400,"hi":584,"lo":570},{"s":2,"t":2500,"hi":596,"lo":582},{"s":2,"t":2610,"hi":584,"lo":570},{"s":2,"t":2720,"hi":595,"lo":581},{"s":2,"t":2780,"hi":583,"lo":569},{"s":2,"t":2900,"hi":594,"lo":580},{"s":2,"t":3020,"hi":582,"lo":568},{"s":2,"t":3180,"hi":594,"lo":580},{"s":2,"t":3300,"hi":582,"lo":567},{"s":2,"t":3400,"hi":593,"lo":579},{"s":2,"t":3530,"hi":581,"lo":567},{"s":2,"t":3620,"hi":593,"lo":579},{"s":2,"t":3760,"hi":581,"lo":566},

      {"s":3,"t":270,"hi":372,"lo":358},{"s":3,"t":470,"hi":360,"lo":346},{"s":3,"t":600,"hi":371,"lo":357},{"s":3,"t":750,"hi":359,"lo":345},{"s":3,"t":870,"hi":370,"lo":356},{"s":3,"t":960,"hi":357,"lo":344},{"s":3,"t":1060,"hi":369,"lo":355},{"s":3,"t":1200,"hi":356,"lo":342},{"s":3,"t":1300,"hi":368,"lo":354},{"s":3,"t":1420,"hi":355,"lo":341},{"s":3,"t":1520,"hi":366,"lo":352},{"s":3,"t":1610,"hi":354,"lo":340},{"s":3,"t":1720,"hi":366,"lo":352},{"s":3,"t":1820,"hi":353,"lo":339},{"s":3,"t":1920,"hi":364,"lo":350},{"s":3,"t":2070,"hi":352,"lo":338},{"s":3,"t":2190,"hi":364,"lo":350},{"s":3,"t":2300,"hi":351,"lo":337},{"s":3,"t":2420,"hi":363,"lo":349},{"s":3,"t":2530,"hi":351,"lo":336},{"s":3,"t":2640,"hi":362,"lo":348},{"s":3,"t":2750,"hi":350,"lo":336},{"s":3,"t":2860,"hi":362,"lo":348},{"s":3,"t":2990,"hi":350,"lo":335},{"s":3,"t":3060,"hi":361,"lo":347},{"s":3,"t":3180,"hi":349,"lo":335},{"s":3,"t":3260,"hi":361,"lo":347},{"s":3,"t":3380,"hi":349,"lo":334},{"s":3,"t":3500,"hi":360,"lo":346},{"s":3,"t":3610,"hi":348,"lo":334},{"s":3,"t":3750,"hi":360,"lo":346},{"s":3,"t":3810,"hi":348,"lo":333},

      {"s":4,"t":280,"hi":145,"lo":128},{"s":4,"t":430,"hi":131,"lo":114},{"s":4,"t":570,"hi":144,"lo":127},{"s":4,"t":720,"hi":130,"lo":113},{"s":4,"t":840,"hi":143,"lo":126},{"s":4,"t":920,"hi":129,"lo":112},{"s":4,"t":1000,"hi":142,"lo":125},{"s":4,"t":1090,"hi":129,"lo":111},{"s":4,"t":1200,"hi":142,"lo":125},{"s":4,"t":1290,"hi":128,"lo":111},{"s":4,"t":1390,"hi":141,"lo":124},{"s":4,"t":1460,"hi":127,"lo":110},{"s":4,"t":1540,"hi":140,"lo":123},{"s":4,"t":1620,"hi":127,"lo":109},{"s":4,"t":1730,"hi":139,"lo":122},{"s":4,"t":1810,"hi":126,"lo":109},{"s":4,"t":1920,"hi":139,"lo":122},{"s":4,"t":2060,"hi":125,"lo":108},{"s":4,"t":2170,"hi":138,"lo":121},{"s":4,"t":2280,"hi":125,"lo":107},{"s":4,"t":2410,"hi":137,"lo":120},{"s":4,"t":2520,"hi":124,"lo":107},{"s":4,"t":2620,"hi":137,"lo":120},{"s":4,"t":2740,"hi":124,"lo":106},{"s":4,"t":2870,"hi":136,"lo":119},{"s":4,"t":3000,"hi":123,"lo":106},{"s":4,"t":3130,"hi":135,"lo":118},{"s":4,"t":3250,"hi":122,"lo":105},{"s":4,"t":3370,"hi":135,"lo":118},{"s":4,"t":3500,"hi":122,"lo":104},{"s":4,"t":3610,"hi":134,"lo":117},{"s":4,"t":3740,"hi":121,"lo":104}
    ],
    "arrows": [
      {"s":2,"t":1503,"v":643,"t2":1452,"v2":620},
      {"s":3,"t":1492,"v":437,"t2":1419,"v2":413},
      {"s":4,"t":1448,"v":228,"t2":1383,"v2":207}
    ],
    "titles": [
      {"t":-75,"v":951,"text":"20mM NaCl"},
      {"t":-110,"v":706,"text":"0.16mM inositol in 20mM NaCl"},
      {"t":-110,"v":468,"text":"0.8mM inositol in 20mM NaCl"},
      {"t":-110,"v":315,"text":"4mM inositol in 20mM NaCl"}
    ],
    "numbers": [
      {"t":-348,"v":850,"text":"(1)"},
      {"t":-348,"v":625,"text":"(2)"},
      {"t":-348,"v":385,"text":"(3)"},
      {"t":-348,"v":195,"text":"(4)"}
    ],
    "scalebar": [
      {"t":2508,"t2":3508,"v":31,"text":"1 s","tc":2975,"vt":53}
    ]
  },
  "encoding": {
    "x": {"field": "t", "type": "quantitative", "scale": {"domain": [-462, 3837], "nice": false, "zero": false}, "axis": null},
    "y": {"field": "v", "type": "quantitative", "scale": {"domain": [0, 981], "nice": false, "zero": false}, "axis": null}
  },
  "layer": [
    {
      "data": {"name": "band"},
      "mark": {"type": "area", "color": "#111111", "opacity": 1},
      "encoding": {
        "y": {"field": "a", "type": "quantitative"},
        "y2": {"field": "b"},
        "detail": {"field": "s", "type": "nominal"}
      }
    },
    {
      "data": {"name": "noise"},
      "mark": {"type": "rule", "color": "#444444", "strokeWidth": 1},
      "encoding": {
        "y": {"field": "hi", "type": "quantitative"},
        "y2": {"field": "lo"}
      }
    },
    {
      "data": {"name": "onset"},
      "mark": {"type": "line", "color": "#111111", "strokeWidth": 1.4},
      "encoding": {
        "detail": {"field": "s", "type": "nominal"},
        "order": {"field": "i", "type": "quantitative"}
      }
    },
    {
      "data": {"name": "spikes"},
      "mark": {"type": "rule", "color": "#2a2a2a", "strokeWidth": 1.3},
      "encoding": {
        "y": {"field": "hi", "type": "quantitative"},
        "y2": {"field": "lo"}
      }
    },
    {
      "data": {"name": "arrows"},
      "mark": {"type": "rule", "color": "#000000", "strokeWidth": 2.2},
      "encoding": {
        "x2": {"field": "t2"},
        "y2": {"field": "v2"}
      }
    },
    {
      "data": {"name": "arrows"},
      "mark": {"type": "point", "shape": "triangle-down", "filled": true, "color": "#000000", "opacity": 1, "size": 260, "angle": 32},
      "encoding": {
        "x": {"field": "t2", "type": "quantitative"},
        "y": {"field": "v2", "type": "quantitative"}
      }
    },
    {
      "data": {"name": "scalebar"},
      "mark": {"type": "rule", "color": "#000000", "strokeWidth": 2},
      "encoding": {
        "x2": {"field": "t2"}
      }
    },
    {
      "data": {"name": "scalebar"},
      "mark": {"type": "text", "font": "Liberation Sans", "fontSize": 27, "align": "center", "baseline": "middle", "color": "#000000"},
      "encoding": {
        "x": {"field": "tc", "type": "quantitative"},
        "y": {"field": "vt", "type": "quantitative"},
        "text": {"field": "text"}
      }
    },
    {
      "data": {"name": "titles"},
      "mark": {"type": "text", "font": "Liberation Sans", "fontSize": 33, "align": "left", "baseline": "middle", "color": "#000000"},
      "encoding": {
        "text": {"field": "text"}
      }
    },
    {
      "data": {"name": "numbers"},
      "mark": {"type": "text", "font": "Liberation Sans", "fontSize": 30, "fontWeight": "bold", "align": "center", "baseline": "middle", "color": "#000000"},
      "encoding": {
        "text": {"field": "text"}
      }
    }
  ]
}
